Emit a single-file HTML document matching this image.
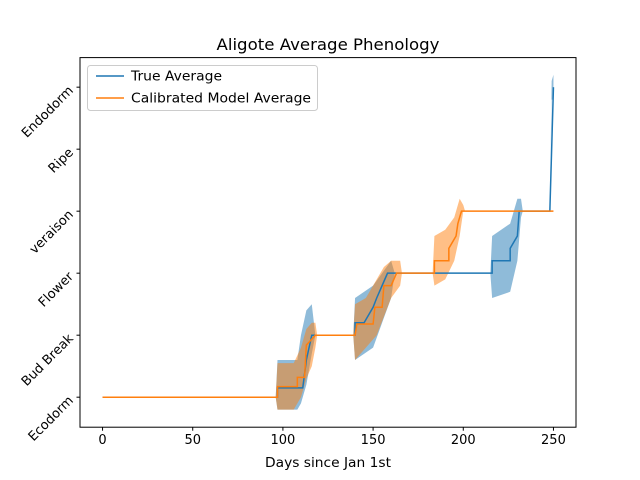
<!DOCTYPE html>
<html><head><meta charset="utf-8"><style>
html,body{margin:0;padding:0;background:#fff}
svg{display:block;font-family:"DejaVu Sans","Liberation Sans",sans-serif}
</style></head><body>
<svg id="chart" width="640" height="480" viewBox="0 0 640 480">
<rect width="640" height="480" fill="#fff"/>
<text x="328" y="50" font-size="16" text-anchor="middle" textLength="223" lengthAdjust="spacingAndGlyphs">Aligote Average Phenology</text>
<g id="bands"></g>
<g id="lines"></g>
<rect x="80" y="57.6" width="496" height="369.6" fill="none" stroke="#000" stroke-width="1"/>
<g id="xaxis"></g>
<g id="yaxis"></g>
<text x="328" y="467" font-size="13" text-anchor="middle" textLength="126" lengthAdjust="spacingAndGlyphs">Days since Jan 1st</text>
<text transform="translate(-4,213) rotate(-90)" font-size="13" text-anchor="middle">Phenology Stage</text>
<g>
<rect x="87.5" y="65.5" width="230" height="45" rx="3" fill="#fff" fill-opacity="0.8" stroke="#ccc"/>
<line x1="96" y1="76" x2="124" y2="76" stroke="#1f77b4" stroke-width="1.5"/>
<text x="131" y="80.5" font-size="13" textLength="91" lengthAdjust="spacingAndGlyphs">True Average</text>
<line x1="96" y1="98" x2="124" y2="98" stroke="#ff7f0e" stroke-width="1.5"/>
<text x="131" y="102.5" font-size="13" textLength="180" lengthAdjust="spacingAndGlyphs">Calibrated Model Average</text>
</g>
</svg>
<script>
const xTicks = [0, 50, 100, 150, 200, 250];
const yCategories = ["Ecodorm", "Bud Break", "Flower", "veraison", "Ripe", "Endodorm"];
const trueDays = [0,97,97,111,113,116,140,140,145,150,152,155,158,160,216,216,226,226,230,231,248,250];
const trueVals = [0,0,0.15,0.15,0.6,1,1,1.2,1.2,1.45,1.6,1.8,2,2,2,2.2,2.2,2.4,2.6,3,3,5];
const trueBandDays = [0,96,97,108,110,113,116,118,139,140,150,155,160,162,215,216,226,230,232,233,247,248,249,250];
const trueLo = [0,0,-0.2,-0.2,-0.1,0.2,0.7,1,1,0.6,0.8,1.2,1.6,2,2,1.6,1.7,2.2,2.9,3,3,3,4.8,4.8];
const trueHi = [0,0,0.6,0.6,1.0,1.4,1.5,1,1,1.6,1.8,2.0,2.2,2,2,2.6,2.8,3.2,3.2,3,3,3,5.1,5.2];
const calDays = [0,97,97,108,108,112,113,118,140,141,150,151,155,156,160,163,165,184,184,192,192,196,197,199,250];
const calVals = [0,0,0.17,0.17,0.32,0.32,0.84,1,1,1.18,1.18,1.45,1.45,1.8,1.8,2,2,2,2.2,2.2,2.4,2.6,2.8,3,3];
const calBandDays = [0,96,97,106,110,113,116,118,119,139,140,146,152,156,160,165,166,183,184,190,195,198,200,201];
const calLo = [0,0,-0.2,-0.2,0,0.3,0.5,0.8,1,1,0.6,0.8,1.0,1.3,1.6,1.8,2,2,1.8,1.9,2.2,2.6,3,3];
const calHi = [0,0,0.55,0.55,0.8,1.1,1.2,1.2,1,1,1.5,1.6,1.9,2.1,2.2,2.2,2,2,2.6,2.7,2.9,3.2,3.1,3];

const NS = "http://www.w3.org/2000/svg";
const X0 = 80, X1 = 576, Y0 = 427.2, Y1 = 57.6;
const xMin = -12.5, xMax = 262.5, yMin = -0.484, yMax = 5.477;
function sx(v){ return X0 + (v - xMin) / (xMax - xMin) * (X1 - X0); }
function sy(v){ return Y0 - (v - yMin) / (yMax - yMin) * (Y0 - Y1); }
function mk(tag, attrs, parent){ const e = document.createElementNS(NS, tag); for (const k in attrs) e.setAttribute(k, attrs[k]); parent.appendChild(e); return e; }

const bands = document.getElementById("bands");
const lines = document.getElementById("lines");
function band(days, lo, hi, color, name){
  let d = "";
  days.forEach((x, i) => { d += (i ? "L" : "M") + sx(x).toFixed(2) + "," + sy(hi[i]).toFixed(2); });
  for (let i = days.length - 1; i >= 0; i--) d += "L" + sx(days[i]).toFixed(2) + "," + sy(lo[i]).toFixed(2);
  const p = mk("path", {d: d + "Z", fill: color, "fill-opacity": 0.5, stroke: "none"}, bands);
  
  
}
function line(days, vals, color, name){
  const pts = days.map((x, i) => sx(x).toFixed(2) + "," + sy(vals[i]).toFixed(2)).join(" ");
  const p = mk("polyline", {points: pts, fill: "none", stroke: color, "stroke-width": 1.5}, lines);
  
  
}
band(trueBandDays, trueLo, trueHi, "#1f77b4", "true-average-band");
band(calBandDays, calLo, calHi, "#ff7f0e", "calibrated-average-band");
line(trueDays, trueVals, "#1f77b4", "true-average-line");
line(calDays, calVals, "#ff7f0e", "calibrated-average-line");

const xa = document.getElementById("xaxis");
xTicks.forEach(t => {
  const x = sx(t);
  const l = mk("line", {x1: x, y1: Y0, x2: x, y2: Y0 + 3.5, stroke: "#000"}, xa);
  
  
  const tx = mk("text", {x: x, y: Y0 + 17, "font-size": 13, "text-anchor": "middle"}, xa);
  tx.textContent = t;
  
  
});
const ya = document.getElementById("yaxis");
yCategories.forEach((c, i) => {
  const y = sy(i);
  const l = mk("line", {x1: X0, y1: y, x2: X0 - 3.5, y2: y, stroke: "#000"}, ya);
  
  
  const tx = mk("text", {transform: "translate(" + (X0 - 6) + "," + (y + 4) + ") rotate(-45)", "font-size": 13, "text-anchor": "end"}, ya);
  tx.textContent = c;
  
  
});
</script>
</body></html>
